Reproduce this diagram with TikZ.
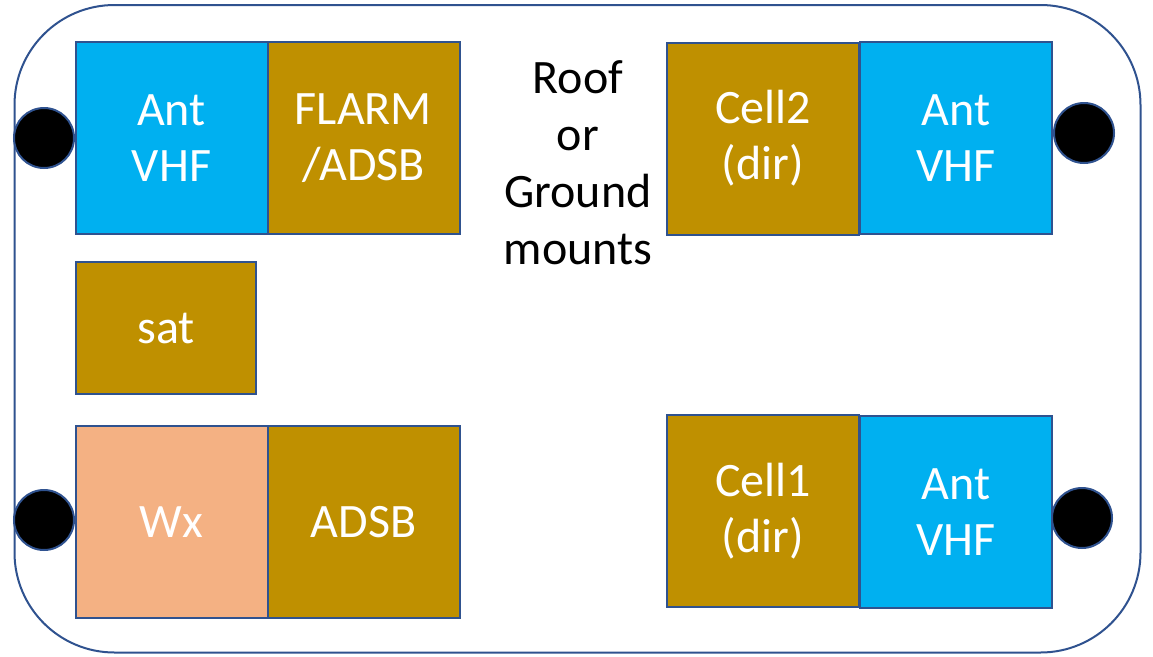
\documentclass[tikz,border=0pt]{standalone}
\usepackage{fontspec}
\setmainfont{Carlito}
\usepackage{tikz}

\definecolor{antblue}{HTML}{00B0F0}
\definecolor{radgold}{HTML}{BF9000}
\definecolor{wxpeach}{HTML}{F4B183}
\definecolor{edgeblue}{HTML}{2F528F}

\begin{document}
\begin{tikzpicture}[x=1pt,y=-1pt,
  unit/.style={draw=edgeblue,line width=2pt,inner sep=0pt,outer sep=0pt,
    minimum width=192pt,minimum height=192pt,align=center,text=white,
    font=\fontsize{48}{56}\selectfont},
  mount/.style={circle,draw=edgeblue,line width=2pt,fill=black,
    minimum size=60pt,inner sep=0pt}]
\useasboundingbox (0,0) rectangle (1153,656);
\draw[edgeblue,line width=2pt,rounded corners=100pt] (14.5,5) rectangle (1140.5,652.5);

\node[mount] (mountTL) at (44,138) {};
\node[mount] (mountBL) at (44,520) {};
\node[mount] (mountTR) at (1084,133) {};
\node[mount] (mountBR) at (1082,518) {};

\node[unit,fill=antblue] (antTL) at (171.5,138) {Ant\\VHF};
\node[unit,fill=radgold] (flarm) at (363.5,138) {FLARM\\/ADSB};
\node[unit,fill=radgold,minimum width=180pt,minimum height=132pt] (sat) at (166,328) {sat};
\node[unit,fill=wxpeach] (wx) at (171.5,522) {Wx};
\node[unit,fill=radgold] (adsb) at (363.5,522) {ADSB};

\node[unit,fill=radgold] (cell2) at (763,138.5) {Cell2\\(dir)};
\node[unit,fill=antblue] (antTR) at (956,138) {Ant\\VHF};
\node[unit,fill=radgold] (cell1) at (763,511) {Cell1\\(dir)};
\node[unit,fill=antblue] (antBR) at (956,512) {Ant\\VHF};

\node[align=center,font=\fontsize{48}{57}\selectfont] (mounts) at (578,163) {Roof\\or\\Ground\\mounts};
\end{tikzpicture}
\end{document}
